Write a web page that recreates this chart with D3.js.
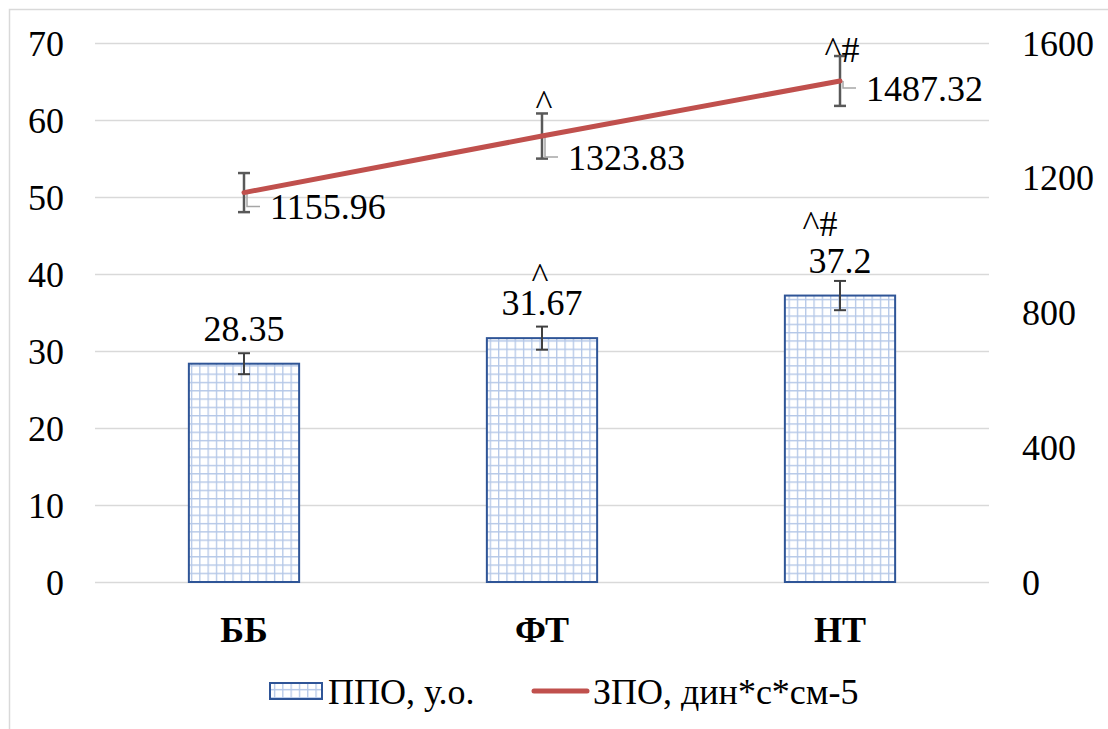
<html><head>
  <script src="https://d3js.org/d3.v7.min.js"></script>
  <style>
    body { margin: 0; background: white; }
  </style>
</head>
<body>
<svg id="plot" width="1108" height="729"></svg>
<script>
  // chart data
  const categories = ["ББ", "ФТ", "НТ"];
  const ppoValues = [28.35, 31.67, 37.2];
  const ppoErrors = [1.36, 1.5, 1.9];
  const zpoValues = [1155.96, 1323.83, 1487.32];
  const zpoErrors = [58, 67, 74];
  const ppoMarks = ["", "^", "^#"];
  const zpoMarks = ["", "^", "^#"];
  const leftTicks = [0, 10, 20, 30, 40, 50, 60, 70];
  const rightTicks = [0, 400, 800, 1200, 1600];
  const seriesNames = ["ППО, у.о.", "ЗПО, дин*с*см-5"];

  const svg = d3.select("#plot");
  const fontSize = 36;
  const serif = "'Liberation Serif'";

  // outer frame
  svg.append("rect").attr("x", 9.5).attr("y", 9.5).attr("width", 1200).attr("height", 800)
     .attr("fill", "white").attr("stroke", "#d9d9d9").attr("stroke-width", 1.5);

  // pattern for bars
  const defs = svg.append("defs");
  const pat = defs.append("pattern").attr("id", "smallgrid")
    .attr("patternUnits", "userSpaceOnUse").attr("width", 8.3).attr("height", 8.3);
  pat.append("rect").attr("width", 8.3).attr("height", 8.3).attr("fill", "white");
  pat.append("path").attr("d", "M0,0 H8.3 M0,0 V8.3").attr("stroke", "#b4c7e7").attr("stroke-width", 2.6);

  const x = d3.scaleBand().domain(categories).range([95, 989]);
  const yL = d3.scaleLinear().domain([0, 70]).range([582, 43]);
  const yR = d3.scaleLinear().domain([0, 1600]).range([582, 43]);
  const barW = x.bandwidth() * 0.37;
  const cx = c => x(c) + x.bandwidth() / 2;

  function label(sel) {
    return sel.style("font-family", serif).style("font-size", fontSize + "px").attr("fill", "black");
  }

  // gridlines
  svg.append("g").selectAll("line").data(leftTicks).join("line")
     .attr("x1", 95).attr("x2", 989)
     .attr("y1", d => yL(d) + 0.5).attr("y2", d => yL(d) + 0.5)
     .attr("stroke", "#d9d9d9").attr("stroke-width", 1.5);

  // left axis labels
  svg.append("g").selectAll("text").data(leftTicks).join("text")
     .attr("x", 64).attr("y", d => yL(d)).attr("dy", "0.35em")
     .attr("text-anchor", "end").call(label)
     .text(d => d);

  // right axis labels
  svg.append("g").selectAll("text").data(rightTicks).join("text")
     .attr("x", 1022).attr("y", d => yR(d)).attr("dy", "0.35em")
     .attr("text-anchor", "start").call(label)
     .text(d => d);

  // category labels
  svg.append("g").selectAll("text").data(categories).join("text")
     .attr("x", d => cx(d)).attr("y", 642)
     .attr("text-anchor", "middle").call(label).style("font-weight", "bold")
     .text(d => d);

  // bars
  svg.append("g").selectAll("rect").data(categories).join("rect")
     .attr("x", d => cx(d) - barW / 2)
     .attr("y", (d, i) => yL(ppoValues[i]))
     .attr("width", barW)
     .attr("height", (d, i) => yL(0) - yL(ppoValues[i]))
     .attr("fill", "url(#smallgrid)")
     .attr("stroke", "#2f5597").attr("stroke-width", 2);

  function errorBars(g, vals, errs, scale, color, w) {
    categories.forEach((c, i) => {
      const top = scale(vals[i] + errs[i]), bot = scale(vals[i] - errs[i]);
      g.append("line").attr("x1", cx(c)).attr("x2", cx(c)).attr("y1", top).attr("y2", bot)
       .attr("stroke", color).attr("stroke-width", w);
      [top, bot].forEach(yy => g.append("line")
        .attr("x1", cx(c) - 6).attr("x2", cx(c) + 6).attr("y1", yy).attr("y2", yy)
        .attr("stroke", color).attr("stroke-width", w));
    });
  }

  errorBars(svg.append("g"), ppoValues, ppoErrors, yL, "#404040", 2);

  // bar value labels
  svg.append("g").selectAll("text").data(categories).join("text")
     .attr("x", d => cx(d)).attr("y", (d, i) => yL(ppoValues[i]) - 23)
     .attr("text-anchor", "middle").call(label)
     .text((d, i) => ppoValues[i]);

  // bar significance marks
  svg.append("g").selectAll("text").data(categories).join("text")
     .attr("x", (d, i) => cx(d) - (ppoMarks[i].length > 1 ? 20 : 2))
     .attr("y", (d, i) => yL(ppoValues[i]) - (ppoMarks[i].length > 1 ? 60 : 50))
     .attr("text-anchor", "middle").call(label)
     .text((d, i) => ppoMarks[i]);

  // line error bars
  errorBars(svg.append("g"), zpoValues, zpoErrors, yR, "#595959", 2.5);

  // leader lines and labels for line points
  const lineLabelDy = [14, 21, 7];
  const leaders = svg.append("g");
  categories.forEach((c, i) => {
    const px = cx(c) + 3, py = yR(zpoValues[i]), ly = py + lineLabelDy[i];
    leaders.append("path")
      .attr("d", `M${px},${py} V${ly} H${px + 13}`)
      .attr("fill", "none").attr("stroke", "#a6a6a6").attr("stroke-width", 1.5);
  });

  // line
  const line = d3.line().x((d, i) => cx(categories[i])).y(d => yR(d));
  svg.append("path").datum(zpoValues).attr("d", line)
     .attr("fill", "none").attr("stroke", "#c0504d").attr("stroke-width", 5)
     .attr("stroke-linecap", "round");

  svg.append("g").selectAll("text").data(categories).join("text")
     .attr("x", d => cx(d) + 26)
     .attr("y", (d, i) => yR(zpoValues[i]) + lineLabelDy[i])
     .attr("dy", "0.35em")
     .call(label)
     .text((d, i) => zpoValues[i].toFixed(2));

  // line significance marks
  svg.append("g").selectAll("text").data(categories).join("text")
     .attr("x", d => cx(d) + 2)
     .attr("y", (d, i) => yR(zpoValues[i] + zpoErrors[i]) + (zpoMarks[i].length > 1 ? 6 : 2))
     .attr("text-anchor", "middle").call(label)
     .text((d, i) => zpoMarks[i]);

  // legend
  const legend = svg.append("g");
  legend.append("rect").attr("x", 270).attr("y", 683).attr("width", 52).attr("height", 16)
        .attr("fill", "url(#smallgrid)").attr("stroke", "#2f5597").attr("stroke-width", 2);
  legend.append("text").attr("x", 328).attr("y", 691).attr("dy", "0.35em")
        .call(label).text(seriesNames[0]);
  legend.append("line").attr("x1", 534).attr("x2", 587).attr("y1", 691).attr("y2", 691)
        .attr("stroke", "#c0504d").attr("stroke-width", 5).attr("stroke-linecap", "round");
  legend.append("text").attr("x", 593).attr("y", 691).attr("dy", "0.35em")
        .call(label).text(seriesNames[1]);
</script>
</body>
</html>
